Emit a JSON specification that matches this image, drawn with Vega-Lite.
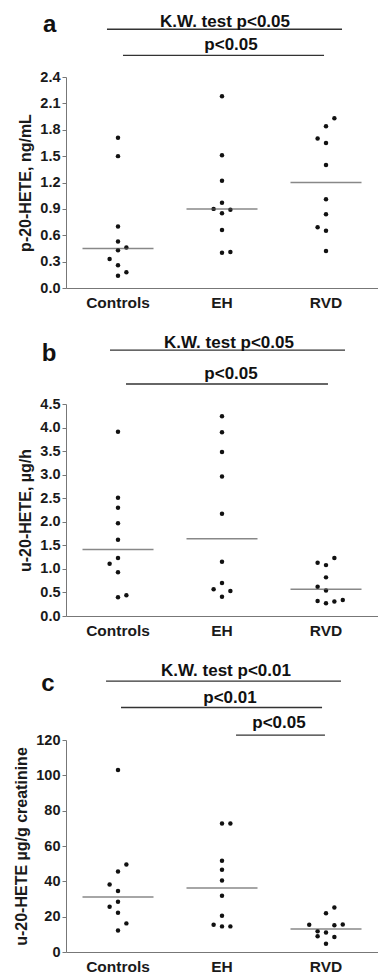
{
  "$schema": "https://vega.github.io/schema/vega-lite/v6.json",
  "padding": {"top": 12, "left": 13, "right": 0, "bottom": 0},
  "spacing": 22,
  "config": {
    "font": "Liberation Sans",
    "view": {"stroke": null},
    "axis": {"grid": false, "domainColor": "#777", "tickColor": "#777", "labelColor": "#1a1a1a", "titleColor": "#1a1a1a", "labelFontWeight": "bold", "titleFontWeight": "bold", "labelOverlap": false}
  },
  "datasets": {
    "points": [
      {"panel": "a", "group": "Controls", "value": 1.71, "dx": 0},
      {"panel": "a", "group": "Controls", "value": 1.50, "dx": 0},
      {"panel": "a", "group": "Controls", "value": 0.70, "dx": 0},
      {"panel": "a", "group": "Controls", "value": 0.53, "dx": 0},
      {"panel": "a", "group": "Controls", "value": 0.43, "dx": 0},
      {"panel": "a", "group": "Controls", "value": 0.46, "dx": 1},
      {"panel": "a", "group": "Controls", "value": 0.33, "dx": -1},
      {"panel": "a", "group": "Controls", "value": 0.26, "dx": 0},
      {"panel": "a", "group": "Controls", "value": 0.18, "dx": 1},
      {"panel": "a", "group": "Controls", "value": 0.14, "dx": 0},
      {"panel": "a", "group": "EH", "value": 2.18, "dx": 0},
      {"panel": "a", "group": "EH", "value": 1.51, "dx": 0},
      {"panel": "a", "group": "EH", "value": 1.22, "dx": 0},
      {"panel": "a", "group": "EH", "value": 0.97, "dx": 0},
      {"panel": "a", "group": "EH", "value": 0.90, "dx": -1},
      {"panel": "a", "group": "EH", "value": 0.89, "dx": 1},
      {"panel": "a", "group": "EH", "value": 0.85, "dx": 0},
      {"panel": "a", "group": "EH", "value": 0.66, "dx": 0},
      {"panel": "a", "group": "EH", "value": 0.40, "dx": 0},
      {"panel": "a", "group": "EH", "value": 0.41, "dx": 1},
      {"panel": "a", "group": "RVD", "value": 1.93, "dx": 1},
      {"panel": "a", "group": "RVD", "value": 1.84, "dx": 0},
      {"panel": "a", "group": "RVD", "value": 1.70, "dx": -1},
      {"panel": "a", "group": "RVD", "value": 1.65, "dx": 0},
      {"panel": "a", "group": "RVD", "value": 1.40, "dx": 0},
      {"panel": "a", "group": "RVD", "value": 1.01, "dx": 0},
      {"panel": "a", "group": "RVD", "value": 0.84, "dx": 0},
      {"panel": "a", "group": "RVD", "value": 0.69, "dx": -1},
      {"panel": "a", "group": "RVD", "value": 0.65, "dx": 0},
      {"panel": "a", "group": "RVD", "value": 0.42, "dx": 0},
      {"panel": "b", "group": "Controls", "value": 3.91, "dx": 0},
      {"panel": "b", "group": "Controls", "value": 2.51, "dx": 0},
      {"panel": "b", "group": "Controls", "value": 2.30, "dx": 0},
      {"panel": "b", "group": "Controls", "value": 1.97, "dx": 0},
      {"panel": "b", "group": "Controls", "value": 1.62, "dx": 0},
      {"panel": "b", "group": "Controls", "value": 1.23, "dx": 0},
      {"panel": "b", "group": "Controls", "value": 1.11, "dx": -1},
      {"panel": "b", "group": "Controls", "value": 0.93, "dx": 0},
      {"panel": "b", "group": "Controls", "value": 0.40, "dx": 0},
      {"panel": "b", "group": "Controls", "value": 0.44, "dx": 1},
      {"panel": "b", "group": "EH", "value": 4.24, "dx": 0},
      {"panel": "b", "group": "EH", "value": 3.90, "dx": 0},
      {"panel": "b", "group": "EH", "value": 3.48, "dx": 0},
      {"panel": "b", "group": "EH", "value": 2.96, "dx": 0},
      {"panel": "b", "group": "EH", "value": 2.17, "dx": 0},
      {"panel": "b", "group": "EH", "value": 1.15, "dx": 0},
      {"panel": "b", "group": "EH", "value": 0.70, "dx": 0},
      {"panel": "b", "group": "EH", "value": 0.57, "dx": -1},
      {"panel": "b", "group": "EH", "value": 0.53, "dx": 1},
      {"panel": "b", "group": "EH", "value": 0.41, "dx": 0},
      {"panel": "b", "group": "RVD", "value": 1.23, "dx": 1},
      {"panel": "b", "group": "RVD", "value": 1.13, "dx": -1},
      {"panel": "b", "group": "RVD", "value": 1.08, "dx": 0},
      {"panel": "b", "group": "RVD", "value": 0.82, "dx": 0},
      {"panel": "b", "group": "RVD", "value": 0.62, "dx": -1},
      {"panel": "b", "group": "RVD", "value": 0.54, "dx": 0},
      {"panel": "b", "group": "RVD", "value": 0.32, "dx": -1},
      {"panel": "b", "group": "RVD", "value": 0.27, "dx": 0},
      {"panel": "b", "group": "RVD", "value": 0.31, "dx": 1},
      {"panel": "b", "group": "RVD", "value": 0.34, "dx": 2},
      {"panel": "c", "group": "Controls", "value": 103.0, "dx": 0},
      {"panel": "c", "group": "Controls", "value": 49.5, "dx": 1},
      {"panel": "c", "group": "Controls", "value": 45.6, "dx": 0},
      {"panel": "c", "group": "Controls", "value": 38.2, "dx": -1},
      {"panel": "c", "group": "Controls", "value": 34.5, "dx": 0},
      {"panel": "c", "group": "Controls", "value": 28.4, "dx": 0},
      {"panel": "c", "group": "Controls", "value": 25.6, "dx": -1},
      {"panel": "c", "group": "Controls", "value": 22.2, "dx": 0},
      {"panel": "c", "group": "Controls", "value": 16.2, "dx": 1},
      {"panel": "c", "group": "Controls", "value": 12.2, "dx": 0},
      {"panel": "c", "group": "EH", "value": 72.7, "dx": 0},
      {"panel": "c", "group": "EH", "value": 72.7, "dx": 1},
      {"panel": "c", "group": "EH", "value": 51.6, "dx": 0},
      {"panel": "c", "group": "EH", "value": 46.5, "dx": 0},
      {"panel": "c", "group": "EH", "value": 40.5, "dx": 0},
      {"panel": "c", "group": "EH", "value": 31.8, "dx": 0},
      {"panel": "c", "group": "EH", "value": 20.5, "dx": 0},
      {"panel": "c", "group": "EH", "value": 15.4, "dx": -1},
      {"panel": "c", "group": "EH", "value": 14.5, "dx": 0},
      {"panel": "c", "group": "EH", "value": 14.5, "dx": 1},
      {"panel": "c", "group": "RVD", "value": 25.2, "dx": 1},
      {"panel": "c", "group": "RVD", "value": 21.9, "dx": 0},
      {"panel": "c", "group": "RVD", "value": 15.4, "dx": -2},
      {"panel": "c", "group": "RVD", "value": 15.1, "dx": 1},
      {"panel": "c", "group": "RVD", "value": 15.6, "dx": 2},
      {"panel": "c", "group": "RVD", "value": 11.7, "dx": -1},
      {"panel": "c", "group": "RVD", "value": 11.1, "dx": 0},
      {"panel": "c", "group": "RVD", "value": 8.9, "dx": -1},
      {"panel": "c", "group": "RVD", "value": 8.5, "dx": 1},
      {"panel": "c", "group": "RVD", "value": 4.7, "dx": 0}
    ],
    "medians": [
      {"panel": "a", "group": "Controls", "value": 0.45},
      {"panel": "a", "group": "EH", "value": 0.90},
      {"panel": "a", "group": "RVD", "value": 1.20},
      {"panel": "b", "group": "Controls", "value": 1.41},
      {"panel": "b", "group": "EH", "value": 1.64},
      {"panel": "b", "group": "RVD", "value": 0.57},
      {"panel": "c", "group": "Controls", "value": 31.1},
      {"panel": "c", "group": "EH", "value": 36.2},
      {"panel": "c", "group": "RVD", "value": 13.0}
    ],
    "brackets": [
      {"panel": "a", "x1": -0.106, "x2": 2.154, "value": 2.943},
      {"panel": "a", "x1": 0.048, "x2": 1.981, "value": 2.647},
      {"panel": "b", "x1": -0.077, "x2": 2.183, "value": 5.642},
      {"panel": "b", "x1": 0.077, "x2": 2.019, "value": 4.925},
      {"panel": "c", "x1": -0.115, "x2": 2.144, "value": 153.3},
      {"panel": "c", "x1": 0.029, "x2": 1.962, "value": 138.4},
      {"panel": "c", "x1": 1.135, "x2": 1.990, "value": 122.8}
    ],
    "labels": [
      {"panel": "a", "x": 1.029, "value": 2.972, "label": "K.W. test p<0.05"},
      {"panel": "a", "x": 1.087, "value": 2.707, "label": "p<0.05"},
      {"panel": "b", "x": 1.067, "value": 5.691, "label": "K.W. test p<0.05"},
      {"panel": "b", "x": 1.087, "value": 5.032, "label": "p<0.05"},
      {"panel": "c", "x": 1.038, "value": 156.3, "label": "K.W. test p<0.01"},
      {"panel": "c", "x": 1.077, "value": 141.2, "label": "p<0.01"},
      {"panel": "c", "x": 1.548, "value": 126.6, "label": "p<0.05"}
    ],
    "letters": [
      {"panel": "a", "x": -0.657, "value": 2.912, "label": "a"},
      {"panel": "b", "x": -0.663, "value": 5.423, "label": "b"},
      {"panel": "c", "x": -0.673, "value": 147.9, "label": "c"}
    ]
  },
  "vconcat": [
    {
      "width": 312, "height": 211,
      "resolve": {"scale": {"x": "independent"}},
      "layer": [
        {
          "layer": [
            {
              "data": {"name": "points"},
              "transform": [{"filter": "datum.panel === 'a'"}],
              "mark": {"type": "point", "filled": true, "color": "#111", "opacity": 1, "size": 20},
              "encoding": {
                "x": {"field": "group", "type": "nominal", "sort": ["Controls", "EH", "RVD"], "scale": {"paddingInner": 0, "paddingOuter": 0}, "axis": {"title": null, "labelAngle": 0, "ticks": false, "labelPadding": 7, "labelFontSize": 15.5}},
                "xOffset": {"field": "dx", "type": "quantitative", "scale": {"domain": [-6.2, 6.2]}},
                "y": {"field": "value", "type": "quantitative", "scale": {"domain": [0, 2.4], "nice": false}, "axis": {"title": "p-20-HETE, ng/mL", "values": [0, 0.3, 0.6, 0.9, 1.2, 1.5, 1.8, 2.1, 2.4], "tickCount": 20, "labelOverlap": false, "format": ".1f", "labelFontSize": 14.5, "titleFontSize": 16, "tickSize": 4, "labelPadding": 2, "titlePadding": 6}}
              }
            },
            {
              "data": {"name": "medians"},
              "transform": [{"filter": "datum.panel === 'a'"}],
              "mark": {"type": "tick", "size": 71, "thickness": 1.5, "color": "#555"},
              "encoding": {
                "x": {"field": "group", "type": "nominal", "sort": ["Controls", "EH", "RVD"]},
                "y": {"field": "value", "type": "quantitative", "scale": {"domain": [0, 2.4], "nice": false}, "axis": {"title": "p-20-HETE, ng/mL"}}
              }
            }
          ]
        },
        {
          "layer": [
            {
              "data": {"name": "brackets"},
              "transform": [{"filter": "datum.panel === 'a'"}],
              "mark": {"type": "rule", "color": "#333", "strokeWidth": 1.3},
              "encoding": {
                "x": {"field": "x1", "type": "quantitative", "scale": {"domain": [-0.5, 2.5], "nice": false, "zero": false}, "axis": null},
                "x2": {"field": "x2"},
                "y": {"field": "value", "type": "quantitative", "scale": {"domain": [0, 2.4], "nice": false}, "axis": {"title": "p-20-HETE, ng/mL"}}
              }
            },
            {
              "data": {"name": "labels"},
              "transform": [{"filter": "datum.panel === 'a'"}],
              "mark": {"type": "text", "fontSize": 17, "fontWeight": "bold", "baseline": "alphabetic", "align": "center", "color": "#111"},
              "encoding": {
                "x": {"field": "x", "type": "quantitative", "scale": {"domain": [-0.5, 2.5], "nice": false, "zero": false}, "axis": null},
                "y": {"field": "value", "type": "quantitative", "scale": {"domain": [0, 2.4], "nice": false}, "axis": {"title": "p-20-HETE, ng/mL"}},
                "text": {"field": "label"}
              }
            },
            {
              "data": {"name": "letters"},
              "transform": [{"filter": "datum.panel === 'a'"}],
              "mark": {"type": "text", "fontSize": 24, "fontWeight": "bold", "baseline": "alphabetic", "align": "center", "color": "#111"},
              "encoding": {
                "x": {"field": "x", "type": "quantitative", "scale": {"domain": [-0.5, 2.5], "nice": false, "zero": false}, "axis": null},
                "y": {"field": "value", "type": "quantitative", "scale": {"domain": [0, 2.4], "nice": false}, "axis": {"title": "p-20-HETE, ng/mL"}},
                "text": {"field": "label"}
              }
            }
          ]
        }
      ]
    },
    {
      "width": 312, "height": 212,
      "resolve": {"scale": {"x": "independent"}},
      "layer": [
        {
          "layer": [
            {
              "data": {"name": "points"},
              "transform": [{"filter": "datum.panel === 'b'"}],
              "mark": {"type": "point", "filled": true, "color": "#111", "opacity": 1, "size": 20},
              "encoding": {
                "x": {"field": "group", "type": "nominal", "sort": ["Controls", "EH", "RVD"], "scale": {"paddingInner": 0, "paddingOuter": 0}, "axis": {"title": null, "labelAngle": 0, "ticks": false, "labelPadding": 7, "labelFontSize": 15.5}},
                "xOffset": {"field": "dx", "type": "quantitative", "scale": {"domain": [-6.2, 6.2]}},
                "y": {"field": "value", "type": "quantitative", "scale": {"domain": [0, 4.5], "nice": false}, "axis": {"title": "u-20-HETE, µg/h", "values": [0, 0.5, 1, 1.5, 2, 2.5, 3, 3.5, 4, 4.5], "tickCount": 20, "labelOverlap": false, "format": ".1f", "labelFontSize": 14.5, "titleFontSize": 16, "tickSize": 4, "labelPadding": 2, "titlePadding": 6}}
              }
            },
            {
              "data": {"name": "medians"},
              "transform": [{"filter": "datum.panel === 'b'"}],
              "mark": {"type": "tick", "size": 71, "thickness": 1.5, "color": "#555"},
              "encoding": {
                "x": {"field": "group", "type": "nominal", "sort": ["Controls", "EH", "RVD"]},
                "y": {"field": "value", "type": "quantitative", "scale": {"domain": [0, 4.5], "nice": false}, "axis": {"title": "u-20-HETE, µg/h"}}
              }
            }
          ]
        },
        {
          "layer": [
            {
              "data": {"name": "brackets"},
              "transform": [{"filter": "datum.panel === 'b'"}],
              "mark": {"type": "rule", "color": "#333", "strokeWidth": 1.3},
              "encoding": {
                "x": {"field": "x1", "type": "quantitative", "scale": {"domain": [-0.5, 2.5], "nice": false, "zero": false}, "axis": null},
                "x2": {"field": "x2"},
                "y": {"field": "value", "type": "quantitative", "scale": {"domain": [0, 4.5], "nice": false}, "axis": {"title": "u-20-HETE, µg/h"}}
              }
            },
            {
              "data": {"name": "labels"},
              "transform": [{"filter": "datum.panel === 'b'"}],
              "mark": {"type": "text", "fontSize": 17, "fontWeight": "bold", "baseline": "alphabetic", "align": "center", "color": "#111"},
              "encoding": {
                "x": {"field": "x", "type": "quantitative", "scale": {"domain": [-0.5, 2.5], "nice": false, "zero": false}, "axis": null},
                "y": {"field": "value", "type": "quantitative", "scale": {"domain": [0, 4.5], "nice": false}, "axis": {"title": "u-20-HETE, µg/h"}},
                "text": {"field": "label"}
              }
            },
            {
              "data": {"name": "letters"},
              "transform": [{"filter": "datum.panel === 'b'"}],
              "mark": {"type": "text", "fontSize": 24, "fontWeight": "bold", "baseline": "alphabetic", "align": "center", "color": "#111"},
              "encoding": {
                "x": {"field": "x", "type": "quantitative", "scale": {"domain": [-0.5, 2.5], "nice": false, "zero": false}, "axis": null},
                "y": {"field": "value", "type": "quantitative", "scale": {"domain": [0, 4.5], "nice": false}, "axis": {"title": "u-20-HETE, µg/h"}},
                "text": {"field": "label"}
              }
            }
          ]
        }
      ]
    },
    {
      "width": 312, "height": 212,
      "resolve": {"scale": {"x": "independent"}},
      "layer": [
        {
          "layer": [
            {
              "data": {"name": "points"},
              "transform": [{"filter": "datum.panel === 'c'"}],
              "mark": {"type": "point", "filled": true, "color": "#111", "opacity": 1, "size": 20},
              "encoding": {
                "x": {"field": "group", "type": "nominal", "sort": ["Controls", "EH", "RVD"], "scale": {"paddingInner": 0, "paddingOuter": 0}, "axis": {"title": null, "labelAngle": 0, "ticks": false, "labelPadding": 7, "labelFontSize": 15.5}},
                "xOffset": {"field": "dx", "type": "quantitative", "scale": {"domain": [-6.2, 6.2]}},
                "y": {"field": "value", "type": "quantitative", "scale": {"domain": [0, 120], "nice": false}, "axis": {"title": "u-20-HETE µg/g creatinine", "values": [0, 20, 40, 60, 80, 100, 120], "tickCount": 20, "labelOverlap": false, "labelFontSize": 14.5, "titleFontSize": 16, "tickSize": 4, "labelPadding": 2, "titlePadding": 6}}
              }
            },
            {
              "data": {"name": "medians"},
              "transform": [{"filter": "datum.panel === 'c'"}],
              "mark": {"type": "tick", "size": 71, "thickness": 1.5, "color": "#555"},
              "encoding": {
                "x": {"field": "group", "type": "nominal", "sort": ["Controls", "EH", "RVD"]},
                "y": {"field": "value", "type": "quantitative", "scale": {"domain": [0, 120], "nice": false}, "axis": {"title": "u-20-HETE µg/g creatinine"}}
              }
            }
          ]
        },
        {
          "layer": [
            {
              "data": {"name": "brackets"},
              "transform": [{"filter": "datum.panel === 'c'"}],
              "mark": {"type": "rule", "color": "#333", "strokeWidth": 1.3},
              "encoding": {
                "x": {"field": "x1", "type": "quantitative", "scale": {"domain": [-0.5, 2.5], "nice": false, "zero": false}, "axis": null},
                "x2": {"field": "x2"},
                "y": {"field": "value", "type": "quantitative", "scale": {"domain": [0, 120], "nice": false}, "axis": {"title": "u-20-HETE µg/g creatinine"}}
              }
            },
            {
              "data": {"name": "labels"},
              "transform": [{"filter": "datum.panel === 'c'"}],
              "mark": {"type": "text", "fontSize": 17, "fontWeight": "bold", "baseline": "alphabetic", "align": "center", "color": "#111"},
              "encoding": {
                "x": {"field": "x", "type": "quantitative", "scale": {"domain": [-0.5, 2.5], "nice": false, "zero": false}, "axis": null},
                "y": {"field": "value", "type": "quantitative", "scale": {"domain": [0, 120], "nice": false}, "axis": {"title": "u-20-HETE µg/g creatinine"}},
                "text": {"field": "label"}
              }
            },
            {
              "data": {"name": "letters"},
              "transform": [{"filter": "datum.panel === 'c'"}],
              "mark": {"type": "text", "fontSize": 24, "fontWeight": "bold", "baseline": "alphabetic", "align": "center", "color": "#111"},
              "encoding": {
                "x": {"field": "x", "type": "quantitative", "scale": {"domain": [-0.5, 2.5], "nice": false, "zero": false}, "axis": null},
                "y": {"field": "value", "type": "quantitative", "scale": {"domain": [0, 120], "nice": false}, "axis": {"title": "u-20-HETE µg/g creatinine"}},
                "text": {"field": "label"}
              }
            }
          ]
        }
      ]
    }
  ]
}
